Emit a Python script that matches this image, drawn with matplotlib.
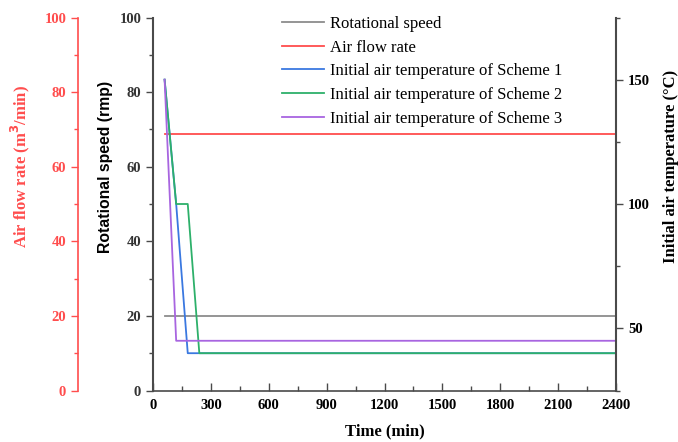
import matplotlib.pyplot as plt
from matplotlib.ticker import MultipleLocator

plt.rcParams['font.family'] = ['Liberation Serif', 'DejaVu Serif']

# Rotational speed and air flow rate (constant over the run)
t_const = [60, 2400]
speed = [20, 20]
airflow = [68.9, 68.9]

# Initial air temperature of the three schemes
t_s1 = [60, 120, 180, 2400]
temp_s1 = [150, 100, 40, 40]
t_s2 = [60, 120, 180, 240, 2400]
temp_s2 = [150, 100, 100, 40, 40]
t_s3 = [60, 120, 2400]
temp_s3 = [150, 45, 45]

labels = ["Rotational speed", "Air flow rate",
          "Initial air temperature of Scheme 1",
          "Initial air temperature of Scheme 2",
          "Initial air temperature of Scheme 3"]

red = '#FF4D4D'
axis_gray = '#4a4a4a'
tick_font = dict(family='Liberation Serif', weight='bold', size=10.5)

fig = plt.figure(figsize=(6.78, 4.42), dpi=100)
ax = fig.add_axes([0.2257, 0.1165, 0.6829, 0.8439])

# main axis: rotational speed
l1, = ax.plot(t_const, speed, color='#8c8c8c', lw=1.3)
ax.set_xlim(0, 2400)
ax.set_ylim(0, 100)
ax.xaxis.set_major_locator(MultipleLocator(300))
ax.xaxis.set_minor_locator(MultipleLocator(150))
ax.yaxis.set_major_locator(MultipleLocator(20))
ax.yaxis.set_minor_locator(MultipleLocator(10))
ax.tick_params(axis='x', which='both', direction='in', colors=axis_gray, labelcolor='black')
ax.tick_params(axis='x', which='major', length=6, width=1, pad=6)
ax.tick_params(axis='x', which='minor', length=3.5, width=1)
ax.tick_params(axis='y', which='both', direction='out', colors=axis_gray, labelcolor='#333333')
ax.tick_params(axis='y', which='major', length=5, width=1)
ax.tick_params(axis='y', which='minor', length=3, width=1)
for lab in ax.get_xticklabels() + ax.get_yticklabels():
    lab.set_fontproperties(tick_font)
ax.spines['top'].set_visible(False)
ax.spines['right'].set_visible(False)
ax.spines['left'].set_color(axis_gray)
ax.spines['bottom'].set_color(axis_gray)
ax.spines['left'].set_linewidth(1.5)
ax.spines['bottom'].set_linewidth(1.2)
ax.set_xlabel('Time (min)', fontsize=12, fontweight='bold', labelpad=8)
ax.set_ylabel('Rotational speed (rmp)', family='Liberation Sans', fontsize=11.3,
              fontweight='bold')
ax.yaxis.set_label_coords(-0.0864, 0.60)

# red axis: air flow rate
ax_r = ax.twinx()
l2, = ax_r.plot(t_const, airflow, color=red, lw=1.3)
ax_r.set_ylim(0, 100)
ax_r.yaxis.set_ticks_position('left')
ax_r.yaxis.set_label_position('left')
ax_r.spines['left'].set_position(('axes', -0.162))
ax_r.spines['left'].set_color(red)
ax_r.spines['left'].set_linewidth(1.2)
for s in ['top', 'right', 'bottom']:
    ax_r.spines[s].set_visible(False)
ax_r.yaxis.set_major_locator(MultipleLocator(20))
ax_r.yaxis.set_minor_locator(MultipleLocator(10))
ax_r.tick_params(axis='y', which='both', direction='out', colors=red)
ax_r.tick_params(axis='y', which='major', length=5, width=1)
ax_r.tick_params(axis='y', which='minor', length=3, width=1)
for lab in ax_r.get_yticklabels():
    lab.set_fontproperties(tick_font)
ax_r.set_ylabel('Air flow rate (m$^\\mathbf{3}$/min)', color=red, fontsize=12,
                fontweight='bold')
ax_r.yaxis.set_label_coords(-0.261, 0.60)

# right axis: initial air temperature
ax_t = ax.twinx()
l3, = ax_t.plot(t_s1, temp_s1, color='#3A78E0', lw=1.3)
l4, = ax_t.plot(t_s2, temp_s2, color='#2DB06A', lw=1.3)
l5, = ax_t.plot(t_s3, temp_s3, color='#A865E0', lw=1.3)
ax_t.set_ylim(25, 175)
ax_t.yaxis.set_major_locator(MultipleLocator(50))
ax_t.yaxis.set_minor_locator(MultipleLocator(25))
for s in ['top', 'left', 'bottom']:
    ax_t.spines[s].set_visible(False)
ax_t.spines['right'].set_color(axis_gray)
ax_t.spines['right'].set_linewidth(1.5)
ax_t.tick_params(axis='y', which='both', direction='out', colors=axis_gray, labelcolor='black')
ax_t.tick_params(axis='y', which='major', length=5, width=1)
ax_t.tick_params(axis='y', which='minor', length=3, width=1)
for lab in ax_t.get_yticklabels():
    lab.set_fontproperties(tick_font)
ax_t.set_ylabel('Initial air temperature (\u00b0C)', fontsize=12, fontweight='bold')
ax_t.yaxis.set_label_coords(1.1015, 0.60)

fig.legend([l1, l2, l3, l4, l5], labels, loc='upper left',
           bbox_to_anchor=(282 / 678, 1 - 16 / 442), bbox_transform=fig.transFigure,
           frameon=False, fontsize=12, handlelength=2.5, handletextpad=0.4,
           labelspacing=0.46, borderpad=0, borderaxespad=0)

fig.savefig('out.png', dpi=100)
